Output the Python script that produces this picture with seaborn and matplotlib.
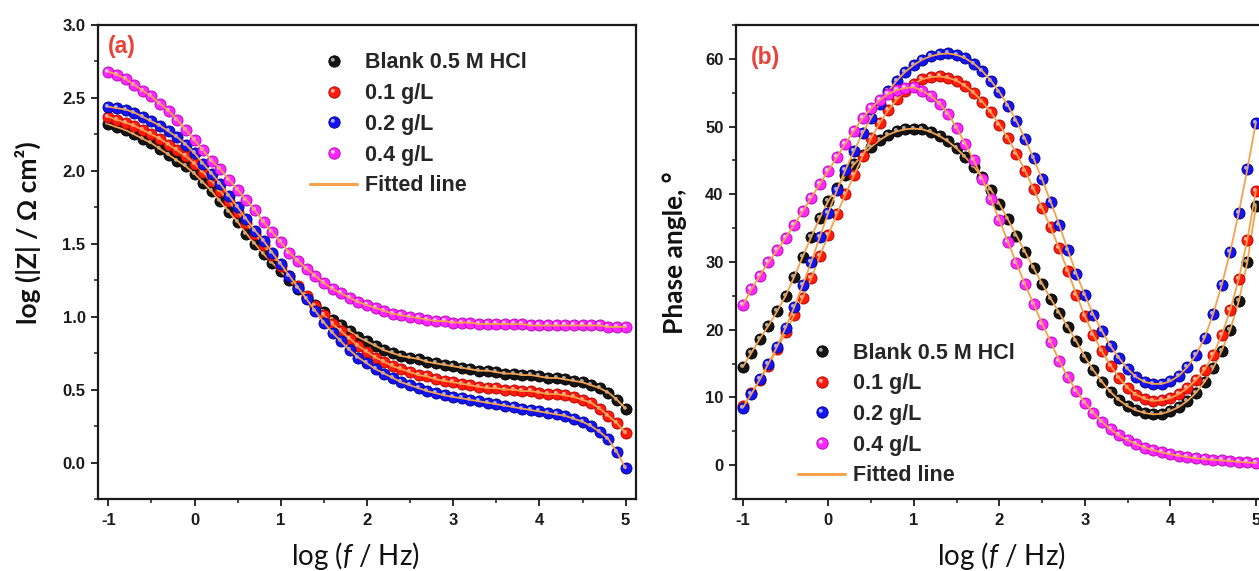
import matplotlib
matplotlib.use("Agg")
import matplotlib.pyplot as plt
from matplotlib.path import Path
from matplotlib.lines import Line2D
from matplotlib.legend_handler import HandlerTuple
from matplotlib.ticker import MultipleLocator, FormatStrFormatter
import numpy as np
import pandas as pd
import seaborn as sns

# ---------------------------------------------------------------- data
log_f = [-1.0, -0.9, -0.8, -0.7, -0.6, -0.5, -0.4, -0.3, -0.2, -0.1,
         0.0, 0.1, 0.2, 0.3, 0.4, 0.5, 0.6, 0.7, 0.8, 0.9,
         1.0, 1.1, 1.2, 1.3, 1.4, 1.5, 1.6, 1.7, 1.8, 1.9,
         2.0, 2.1, 2.2, 2.3, 2.4, 2.5, 2.6, 2.7, 2.8, 2.9,
         3.0, 3.1, 3.2, 3.3, 3.4, 3.5, 3.6, 3.7, 3.8, 3.9,
         4.0, 4.1, 4.2, 4.3, 4.4, 4.5, 4.6, 4.7, 4.8, 4.9,
         5.0]

series_labels = ["Blank 0.5 M HCl", "0.1 g/L", "0.2 g/L", "0.4 g/L"]

# Bode modulus, log(|Z| / ohm cm2)
logz_blank = [2.32, 2.30, 2.28, 2.25, 2.22, 2.19, 2.15, 2.11, 2.07, 2.03,
              1.98, 1.92, 1.86, 1.79, 1.72, 1.65, 1.57, 1.50, 1.43, 1.37,
              1.31, 1.25, 1.19, 1.13, 1.08, 1.03, 0.98, 0.94, 0.90, 0.86,
              0.83, 0.80, 0.77, 0.75, 0.73, 0.72, 0.71, 0.69, 0.68, 0.67,
              0.66, 0.65, 0.64, 0.63, 0.63, 0.62, 0.61, 0.61, 0.60, 0.60,
              0.59, 0.58, 0.58, 0.57, 0.56, 0.55, 0.53, 0.51, 0.48, 0.43,
              0.37]
logz_01 = [2.37, 2.35, 2.33, 2.31, 2.28, 2.25, 2.22, 2.18, 2.14, 2.10,
           2.05, 1.99, 1.93, 1.86, 1.79, 1.72, 1.64, 1.57, 1.49, 1.42,
           1.35, 1.28, 1.21, 1.14, 1.07, 1.01, 0.95, 0.90, 0.85, 0.80,
           0.76, 0.72, 0.69, 0.66, 0.64, 0.62, 0.60, 0.59, 0.57, 0.56,
           0.55, 0.54, 0.53, 0.52, 0.51, 0.51, 0.50, 0.50, 0.49, 0.49,
           0.48, 0.47, 0.47, 0.46, 0.45, 0.43, 0.41, 0.37, 0.32, 0.27,
           0.20]
logz_02 = [2.44, 2.43, 2.42, 2.40, 2.37, 2.34, 2.31, 2.27, 2.23, 2.18,
           2.12, 2.05, 1.98, 1.91, 1.83, 1.75, 1.67, 1.59, 1.52, 1.44,
           1.36, 1.28, 1.20, 1.12, 1.04, 0.96, 0.89, 0.83, 0.77, 0.72,
           0.68, 0.64, 0.61, 0.58, 0.55, 0.53, 0.51, 0.49, 0.475, 0.46,
           0.45, 0.44, 0.43, 0.42, 0.41, 0.40, 0.39, 0.38, 0.37, 0.36,
           0.35, 0.34, 0.33, 0.32, 0.30, 0.28, 0.25, 0.21, 0.16, 0.07,
           -0.04]
logz_04 = [2.68, 2.66, 2.63, 2.59, 2.55, 2.51, 2.46, 2.41, 2.35, 2.28,
           2.21, 2.14, 2.07, 2.01, 1.94, 1.87, 1.80, 1.73, 1.65, 1.58,
           1.51, 1.44, 1.38, 1.33, 1.28, 1.23, 1.19, 1.16, 1.13, 1.10,
           1.08, 1.06, 1.04, 1.02, 1.01, 1.00, 0.99, 0.98, 0.97, 0.97,
           0.96, 0.96, 0.96, 0.95, 0.95, 0.95, 0.95, 0.95, 0.95, 0.94,
           0.94, 0.94, 0.94, 0.94, 0.94, 0.94, 0.94, 0.94, 0.93, 0.93,
           0.93]

# Bode phase angle, degrees
phase_blank = [14.5, 16.6, 18.7, 20.6, 22.7, 25.0, 27.8, 30.8, 33.7, 36.5,
               39.0, 41.0, 42.8, 44.4, 45.8, 47.0, 48.0, 48.8, 49.3, 49.6,
               49.7, 49.6, 49.2, 48.6, 47.8, 46.8, 45.5, 44.1, 42.5, 40.7,
               38.6, 36.3, 33.9, 31.5, 29.1, 26.8, 24.6, 22.5, 20.4, 18.3,
               16.0, 14.0, 12.3, 10.8, 9.6, 8.7, 8.1, 7.7, 7.5, 7.6,
               8.0, 8.6, 9.5, 10.7, 12.3, 14.3, 16.9, 20.0, 24.2, 30.0,
               38.2]
phase_01 = [8.7, 10.6, 12.6, 14.7, 17.1, 19.6, 22.1, 24.7, 27.6, 30.9,
            34.0, 37.1, 40.0, 42.8, 45.6, 48.3, 50.5, 52.4, 54.0, 55.3,
            56.3, 57.0, 57.3, 57.4, 57.2, 56.8, 56.0, 55.0, 53.7, 52.1,
            50.3, 48.3, 46.0, 43.5, 40.8, 38.0, 35.1, 32.0, 28.7, 25.2,
            22.0, 19.2, 16.8, 14.7, 12.9, 11.4, 10.4, 9.8, 9.5, 9.6,
            9.9, 10.5, 11.4, 12.6, 14.1, 16.3, 19.2, 22.9, 27.5, 33.3,
            40.5]
phase_02 = [8.5, 10.5, 12.7, 15.0, 17.5, 20.3, 23.3, 26.6, 30.0, 33.7,
            37.3, 40.6, 43.6, 46.4, 49.0, 51.3, 53.4, 55.2, 56.8, 58.1,
            59.1, 59.9, 60.4, 60.7, 60.8, 60.6, 60.1, 59.3, 58.2, 56.8,
            55.1, 53.1, 50.8, 48.2, 45.3, 42.2, 38.9, 35.5, 31.8, 28.3,
            25.1, 22.2, 19.8, 17.6, 15.8, 14.2, 13.0, 12.3, 12.0, 12.0,
            12.4, 13.2, 14.5, 16.3, 18.8, 22.3, 26.6, 31.5, 37.3, 43.7,
            50.6]
phase_04 = [23.6, 26.0, 28.0, 30.0, 31.7, 33.6, 35.5, 37.5, 39.5, 41.5,
            43.5, 45.5, 47.5, 49.4, 51.2, 52.7, 53.9, 54.8, 55.4, 55.7,
            55.8, 55.3, 54.5, 53.4, 51.9, 49.8, 47.5, 45.0, 42.3, 39.3,
            36.2, 33.0, 29.8, 26.7, 23.8, 20.9, 18.2, 15.4, 13.0, 11.0,
            9.2, 7.7, 6.4, 5.3, 4.4, 3.7, 3.1, 2.6, 2.2, 1.9,
            1.6, 1.4, 1.2, 1.0, 0.9, 0.8, 0.7, 0.6, 0.5, 0.4,
            0.3]

modulus = [logz_blank, logz_01, logz_02, logz_04]
phase = [phase_blank, phase_01, phase_02, phase_04]

# ---------------------------------------------------------------- style
face_colors = ["#141414", "#ff1c0c", "#1414f0", "#ff26ff"]
edge_colors = ["#000000", "#b00000", "#00008c", "#b000b0"]
shine_colors = ["#a8a8a8", "#ffb0a8", "#a8b0ff", "#ffc8ff"]
fit_color = "#f4a24c"

sns.set_theme(style="ticks")
plt.rcParams.update({
    "font.family": ["Liberation Sans", "DejaVu Sans"],
    "axes.unicode_minus": False,
    "mathtext.fontset": "custom",
    "mathtext.rm": "Lato",
    "mathtext.it": "Lato:italic",
    "xtick.direction": "out",
    "ytick.direction": "out",
    "xtick.major.size": 5,
    "ytick.major.size": 5,
    "xtick.minor.size": 3,
    "ytick.minor.size": 3,
    "xtick.major.width": 1.3,
    "ytick.major.width": 1.3,
    "xtick.minor.width": 1.1,
    "ytick.minor.width": 1.1,
    "xtick.color": "#1a1a1a",
    "ytick.color": "#1a1a1a",
    "axes.edgecolor": "#1a1a1a",
    "axes.linewidth": 1.6,
})

# small off-centre spot that gives each ball marker its shine
shine = Path.make_compound_path(
    Path([[-1.0, -1.0]], [Path.MOVETO]),
    Path([[1.0, 1.0]], [Path.MOVETO]),
    Path.circle(center=(-0.30, 0.30), radius=0.34),
)

long_a = pd.DataFrame({
    "log_f": log_f * 4,
    "value": sum(modulus, []),
    "series": np.repeat(series_labels, len(log_f)),
})
long_b = pd.DataFrame({
    "log_f": log_f * 4,
    "value": sum(phase, []),
    "series": np.repeat(series_labels, len(log_f)),
})

W, H = 1259, 571
fig = plt.figure(figsize=(W / 100, H / 100), dpi=100)
ax_a = fig.add_axes([98 / W, 1 - 499 / H, (636 - 98) / W, 474 / H])
ax_b = fig.add_axes([736 / W, 1 - 499 / H, 531 / W, 474 / H])

MS = 64  # marker area, pt^2


def draw_panel(ax, data):
    for i, name in enumerate(series_labels):
        sub = data[data["series"] == name]
        sns.scatterplot(data=sub, x="log_f", y="value", ax=ax, s=MS,
                        color=face_colors[i], edgecolor=edge_colors[i],
                        linewidth=0.6, legend=False, zorder=2 + i)
        ax.scatter(sub["log_f"], sub["value"], s=MS, marker=shine,
                   color=shine_colors[i], linewidths=0, zorder=2 + i)
        sns.lineplot(data=sub, x="log_f", y="value", ax=ax, color=fit_color,
                     lw=1.3, estimator=None, sort=False, legend=False,
                     zorder=2.5 + i)


draw_panel(ax_a, long_a)
draw_panel(ax_b, long_b)

ax_a.set_xlim(-1.12, 5.12)
ax_a.set_ylim(-0.25, 3.0)
ax_a.yaxis.set_major_locator(MultipleLocator(0.5))
ax_a.yaxis.set_minor_locator(MultipleLocator(0.25))
ax_a.yaxis.set_major_formatter(FormatStrFormatter("%.1f"))

ax_b.set_xlim(-1.08, 5.13)
ax_b.set_ylim(-5, 65)
ax_b.yaxis.set_major_locator(MultipleLocator(10))
ax_b.yaxis.set_minor_locator(MultipleLocator(5))
ax_b.yaxis.set_major_formatter(FormatStrFormatter("%d"))

for ax in (ax_a, ax_b):
    for side in ("top", "right"):
        ax.spines[side].set_visible(True)
    ax.xaxis.set_major_locator(MultipleLocator(1))
    ax.xaxis.set_minor_locator(MultipleLocator(0.5))
    ax.xaxis.set_major_formatter(FormatStrFormatter("%d"))
    ax.tick_params(which="both", top=False, right=False)
    ax.tick_params(axis="x", which="major", pad=5)
    ax.tick_params(axis="y", which="major", pad=4)
    for lab in ax.get_xticklabels() + ax.get_yticklabels():
        lab.set_fontweight("bold")
        lab.set_fontsize(12)
    ax.set_xlabel("log ($f$ / Hz)", family=["Lato", "DejaVu Sans"],
                  fontsize=20, color="#111111", va="top")

ax_a.xaxis.set_label_coords(0.479, -0.086)
ax_b.xaxis.set_label_coords(0.5, -0.086)

ax_a.set_ylabel("log (|Z| / Ω cm²)", family=["Lato", "DejaVu Sans"],
                fontweight="bold", fontsize=19, color="#111111")
ax_a.yaxis.set_label_coords(-0.106, 0.563)
ax_b.set_ylabel("Phase angle, °", family=["Lato", "DejaVu Sans"],
                fontweight="bold", fontsize=19, color="#111111")
ax_b.yaxis.set_label_coords(-0.092, 0.52)

ax_a.text(0.019, 0.978, "(a)", transform=ax_a.transAxes, color="#e8443a",
          fontsize=16.5, fontweight="bold", va="top", ha="left")
ax_b.text(0.028, 0.955, "(b)", transform=ax_b.transAxes, color="#e8443a",
          fontsize=16.5, fontweight="bold", va="top", ha="left")

# legend entries: ball markers plus the orange fit line
handles = []
for i in range(4):
    base = Line2D([], [], ls="none", marker="o", ms=8.2,
                  mfc=face_colors[i], mec=edge_colors[i], mew=0.6)
    spot = Line2D([], [], ls="none", marker=shine, ms=8.2,
                  mfc=shine_colors[i], mec="none")
    handles.append((base, spot))
handles.append(Line2D([], [], color=fit_color, lw=2.2))
labels = series_labels + ["Fitted line"]

legend_kw = dict(frameon=False, loc="upper left", borderpad=0,
                 borderaxespad=0, handlelength=2.2, handletextpad=0.35,
                 labelspacing=0.45, numpoints=1,
                 handler_map={tuple: HandlerTuple(ndivide=1)},
                 prop={"family": "Liberation Sans", "weight": "bold",
                       "size": 15.5})
ax_a.legend(handles, labels, bbox_to_anchor=(0.394, 0.942), **legend_kw)
ax_b.legend(handles, labels, bbox_to_anchor=(0.117, 0.330), **legend_kw)

fig.savefig("out.png", dpi=100)
